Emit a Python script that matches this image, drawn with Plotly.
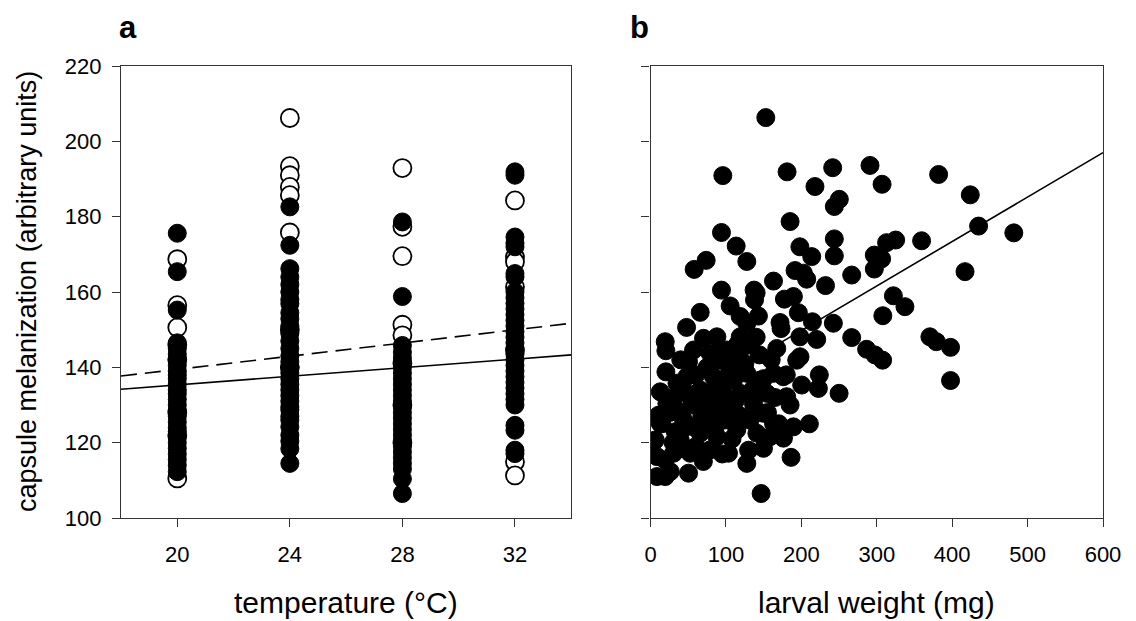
import plotly.graph_objects as go

# ---------------- Panel a data (temperature columns) ----------------
temps = [20, 24, 28, 32]
filled_20 = [175.6, 165.4, 155.2, 146.5, 145, 143.5, 142, 140.5, 139, 138, 137, 135.5, 134,
             133, 131.5, 130, 128.5, 127, 125.5, 124, 123, 121.5, 120, 118.5, 117, 115.5, 114, 112.3]
open_20 = [168.7, 156.5, 150.6, 146, 142, 128, 122, 110.5]
filled_24 = [182.6, 172.4, 166.2, 164, 162, 160, 158, 156.9, 154.5, 152.9, 151, 149, 147, 145,
             143, 141.5, 140, 138.5, 137, 135.5, 134, 132.5, 131, 129.5, 128.7, 127, 126, 124.2,
             122, 120.4, 118.4, 114.5]
open_24 = [206.2, 193.4, 191.0, 187.9, 185.7, 175.8, 150, 140]
filled_28 = [178.6, 158.8, 145.8, 144, 142.5, 140, 138.5, 137, 135.5, 134, 132.5, 131, 129.5,
             128, 126.5, 125, 123.5, 122, 120.5, 119, 117.5, 116, 114.5, 113, 110.4, 106.5]
open_28 = [192.9, 177.3, 169.5, 151.3, 148.5, 141.0, 130, 120]
filled_32 = [191.9, 191.0, 174.6, 173.0, 172.0, 164.9, 164.0, 160, 158.5, 157, 155.5, 154,
             152.5, 151, 149.5, 148, 146.5, 145, 143.5, 142, 140.5, 139, 137.5, 136, 134.5, 133,
             131.5, 130, 124.6, 123.3, 118.0, 117.1]
open_32 = [184.3, 169.3, 168.0, 161.3, 144.5, 114.9, 111.3]

# regression lines, panel a
line_temp_x = [18, 34]
solid_line_y = [134.2, 143.3]
dashed_line_y = [137.7, 151.7]

# ---------------- Panel b data (larval weight) ----------------
weight_mg = [152.8, 95.8, 181, 241.5, 291, 382, 218, 307, 424, 250.3, 243.7, 185, 94, 435, 481.7,
             359.4, 325, 313, 243.7, 113.5, 198, 213.7, 243.7, 296.7, 306.4, 296.7, 127.6, 73.7,
             57.8, 417, 191.6, 207, 163, 232, 266.7, 94, 137.3, 189.4, 177.5, 322, 337.3, 105.5,
             137.8, 65.8, 143, 118.8, 196, 308, 214.6, 242.4, 47.7, 173, 266.7, 370.4, 379, 397.8,
             286.5, 297.5, 307.7, 397.8, 220.3, 198, 19.4, 20.3, 70.2, 87.9, 118.8, 132, 144.4,
             167.3, 193.8, 20.3, 50.3, 79, 101, 110, 200.4, 223.8, 222.5, 250, 163, 176, 145,
             127.6, 12.8, 10.6, 6.2, 19.4, 26, 50.3, 19.4, 79, 103.3, 127.6, 149.7, 146.6, 186.3,
             176.2, 189.4, 210.6, 39.3, 57, 35, 48, 65.8, 83.4, 92.3, 79, 101, 118.8, 136.4, 149.7,
             163, 114.3, 65.8, 30.5, 8.4, 52.5, 87.9, 132, 154, 180.5, 92.3, 110, 48, 61.4, 21.6,
             12.8, 35, 57, 171.7, 127.6, 140, 202.6, 101, 74.6, 43.7, 158.6, 141, 110, 87.9, 70.2,
             198.2, 118.8, 87.9, 8.4, 2, 32.7,
             15, 25, 30, 40, 45, 55, 60, 68, 75, 80, 85, 90, 95, 98, 105, 108, 112, 115, 120, 125,
             130, 135, 140, 150, 155, 160, 165, 170, 180, 185, 60, 70, 95, 100, 40, 30]
melan_b = [206.3, 190.9, 191.9, 193.0, 193.6, 191.2, 188.0, 188.6, 185.8, 184.6, 182.7, 178.7,
           175.8, 177.5, 175.7, 173.6, 173.8, 173.1, 174.1, 172.2, 172.0, 169.4, 169.6, 169.8,
           168.8, 166.1, 168.1, 168.4, 166.0, 165.4, 165.7, 163.4, 162.9, 161.7, 164.5, 160.5,
           160.5, 158.8, 158.1, 159.0, 156.1, 156.3, 157.9, 154.6, 153.6, 153.5, 154.5, 153.7,
           152.1, 151.7, 150.6, 150.3, 147.9, 148.1, 146.8, 145.3, 144.8, 143.3, 141.9, 136.5,
           147.4, 148.1, 146.8, 144.4, 147.7, 148.1, 148.1, 145.9, 143.3, 145.0, 141.9, 138.8,
           141.5, 143.7, 144.6, 141.9, 135.3, 138.0, 134.4, 133.1, 138.4, 137.5, 136.6, 138.4,
           133.5, 127.3, 120.7, 111.0, 112.3, 111.9, 115.4, 118.1, 117.2, 114.5, 118.5, 106.5,
           116.1, 121.2, 124.2, 125.0, 120.7, 124.2, 128.7, 133.1, 134.0, 137.5, 132.2, 127.8,
           127.8, 133.1, 130.4, 127.8, 125.1, 123.4, 122.5, 117.2, 116.3, 117.2, 121.6, 126.0,
           133.1, 132.2, 141.9, 136.6, 137.5, 130.4, 130.4, 125.1, 135.8, 144.6, 151.9, 151.7,
           159.8, 165.0, 131.3, 133.1, 126.0, 121.6, 122.5, 128.7, 128.7, 125.1, 142.8, 144.6,
           135.8, 111.0, 119.8, 122.9,
           125, 128, 132, 135, 124, 130, 138, 127, 140, 131, 124, 144, 134, 126, 139, 121, 131,
           146, 127, 141, 118, 134, 148, 137, 128, 142, 132, 125, 138, 130, 119, 115, 117, 142,
           142, 120]

line_weight_x = [0, 600]
line_b_y = [126.2, 197.0]

# tick labels
ytick_vals = [100, 120, 140, 160, 180, 200, 220]
xtick_temp = [20, 24, 28, 32]
xtick_weight = [0, 100, 200, 300, 400, 500, 600]

FONT = "Liberation Sans, Arial, sans-serif"
MSIZE = 18

fig = go.Figure()

# panel a lines (beneath markers)
fig.add_trace(go.Scatter(x=line_temp_x, y=solid_line_y, mode="lines",
                         line=dict(color="black", width=1.6), xaxis="x", yaxis="y",
                         showlegend=False, hoverinfo="skip"))
fig.add_trace(go.Scatter(x=line_temp_x, y=dashed_line_y, mode="lines",
                         line=dict(color="black", width=1.6, dash="16px,8px"), xaxis="x", yaxis="y",
                         showlegend=False, hoverinfo="skip"))

open_groups = [open_20, open_24, open_28, open_32]
filled_groups = [filled_20, filled_24, filled_28, filled_32]
ox, oy, fx, fy = [], [], [], []
for t, o, f in zip(temps, open_groups, filled_groups):
    ox += [t] * len(o)
    oy += o
    fx += [t] * len(f)
    fy += f

fig.add_trace(go.Scatter(x=ox, y=oy, mode="markers", xaxis="x", yaxis="y",
                         marker=dict(size=MSIZE, color="white",
                                     line=dict(color="black", width=1.8)),
                         showlegend=False))
fig.add_trace(go.Scatter(x=fx, y=fy, mode="markers", xaxis="x", yaxis="y",
                         marker=dict(size=MSIZE, color="black",
                                     line=dict(color="black", width=1)),
                         showlegend=False))

# panel b
fig.add_trace(go.Scatter(x=line_weight_x, y=line_b_y, mode="lines", xaxis="x2", yaxis="y2",
                         line=dict(color="black", width=1.6), showlegend=False, hoverinfo="skip"))
fig.add_trace(go.Scatter(x=weight_mg, y=melan_b, mode="markers", xaxis="x2", yaxis="y2",
                         marker=dict(size=MSIZE, color="black",
                                     line=dict(color="black", width=1)),
                         showlegend=False))

axis_common = dict(showline=True, mirror=True, linecolor="#333333", linewidth=1.2,
                   ticks="outside", ticklen=8, tickcolor="#333333", tickwidth=1,
                   showgrid=False, zeroline=False,
                   tickfont=dict(family=FONT, size=22, color="black"))

fig.update_layout(
    width=1128, height=613,
    margin=dict(l=113, r=33, t=58, b=103),
    paper_bgcolor="white", plot_bgcolor="white",
    xaxis=dict(domain=[0, 0.4585], range=[18, 34], tickvals=xtick_temp, anchor="y",
               ticklabelstandoff=8, **axis_common),
    yaxis=dict(domain=[0, 1], range=[100, 220], tickvals=ytick_vals, anchor="x",
               ticklabelstandoff=6, **axis_common),
    xaxis2=dict(domain=[0.5393, 1], range=[0, 600], tickvals=xtick_weight, anchor="y2",
                ticklabelstandoff=8, **axis_common),
    yaxis2=dict(domain=[0, 1], range=[100, 220], tickvals=ytick_vals, anchor="x2",
                showticklabels=False, **axis_common),
    annotations=[
        dict(text="<b>a</b>", x=-0.004, y=1.085, xref="paper", yref="paper",
             xanchor="left", yanchor="middle", showarrow=False,
             font=dict(family=FONT, size=31, color="black")),
        dict(text="<b>b</b>", x=0.516, y=1.085, xref="paper", yref="paper",
             xanchor="left", yanchor="middle", showarrow=False,
             font=dict(family=FONT, size=31, color="black")),
        dict(text="temperature (°C)", x=0.2292, y=-0.186, xref="paper", yref="paper",
             xanchor="center", yanchor="middle", showarrow=False,
             font=dict(family=FONT, size=30, color="black")),
        dict(text="larval weight (mg)", x=0.7696, y=-0.186, xref="paper", yref="paper",
             xanchor="center", yanchor="middle", showarrow=False,
             font=dict(family=FONT, size=30, color="black")),
        dict(text="capsule melanization (arbitrary units)", x=-0.0957, y=0.5,
             xref="paper", yref="paper", textangle=-90,
             xanchor="center", yanchor="middle", showarrow=False,
             font=dict(family=FONT, size=27, color="black")),
    ],
)

fig.write_html("out.html")
